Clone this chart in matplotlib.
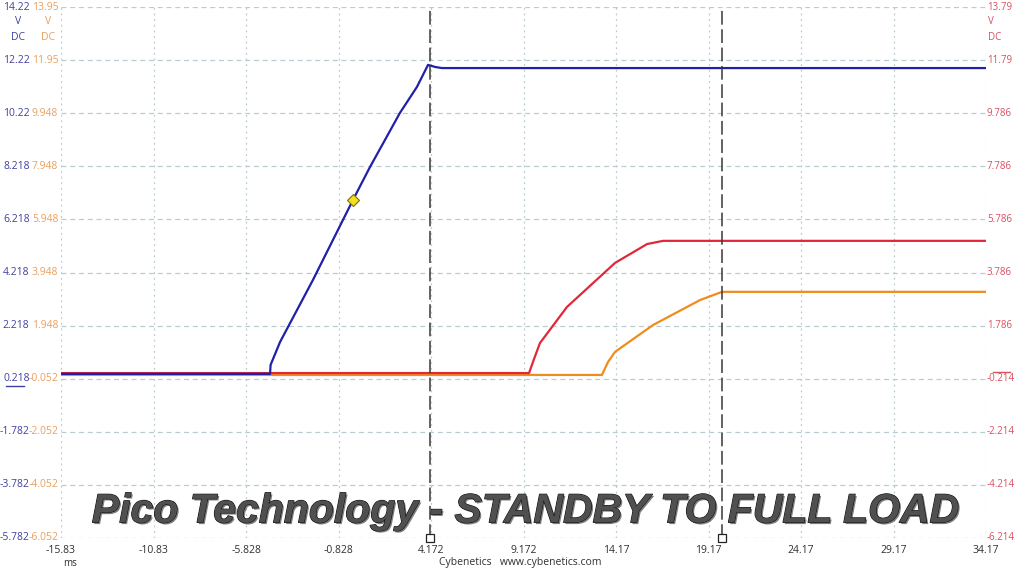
import numpy as np
import matplotlib.pyplot as plt
import matplotlib.patheffects as pe

# time axis (ms) and tick labels
x_ticks = [-15.83, -10.83, -5.828, -0.828, 4.172, 9.172, 14.17, 19.17, 24.17, 29.17, 34.17]
x_labels = ['-15.83', '-10.83', '-5.828', '-0.828', '4.172', '9.172', '14.17', '19.17', '24.17', '29.17', '34.17']

# channel scales (labels as shown by the scope)
blue_labels = ['14.22', '12.22', '10.22', '8.218', '6.218', '4.218', '2.218', '0.218', '-1.782', '-3.782', '-5.782']
orange_labels = ['13.95', '11.95', '9.948', '7.948', '5.948', '3.948', '1.948', '-0.052', '-2.052', '-4.052', '-6.052']
red_labels = ['13.79', '11.79', '9.786', '7.786', '5.786', '3.786', '1.786', '-0.214', '-2.214', '-4.214', '-6.214']

# traces
blue_t = [-15.83, -4.53, -4.50, -3.99, -2.21, -0.05, 0.87, 2.49, 3.41, 4.01, 4.40, 4.76, 34.17]
blue_v = [0.40, 0.40, 0.74, 1.60, 3.94, 6.95, 8.19, 10.23, 11.21, 12.04, 11.96, 11.92, 11.92]
red_t = [-15.83, 9.47, 9.75, 10.06, 11.52, 14.12, 15.85, 16.71, 34.17]
red_v = [0.0, 0.0, 0.55, 1.13, 2.49, 4.15, 4.86, 4.98, 4.98]
orange_t = [-15.83, 13.41, 13.74, 14.12, 16.17, 18.71, 19.90, 34.17]
orange_v = [0.09, 0.09, 0.58, 0.96, 1.97, 2.91, 3.22, 3.22]
marker_t = -0.05
marker_v = 6.95
cursors = [4.12, 19.90]

blueC = '#2020a8'
orangeC = '#f08c1e'
redC = '#e0283a'
blueTxt = '#4040a0'
orangeTxt = '#e8a060'
redTxt = '#d85060'
gridC = '#b8ccd2'

fig = plt.figure(figsize=(10.15, 5.71), dpi=100)
ax = fig.add_axes([61/1015, 1 - 538/571, 925/1015, 531/571])
ax_o = ax.twinx()
ax_r = ax.twinx()
ax_o.set_ylim(float(orange_labels[-1]), float(orange_labels[0]))
ax_r.set_ylim(float(red_labels[-1]), float(red_labels[0]))
ax_o.axis('off')
ax_r.axis('off')
ax.set_xlim(x_ticks[0], x_ticks[-1])
ax.set_ylim(float(blue_labels[-1]), float(blue_labels[0]))
for s in ax.spines.values():
    s.set_visible(False)
ax.set_xticks([])
ax.set_yticks([])

# grid
for v in [float(b) for b in blue_labels]:
    ax.axhline(v, color=gridC, lw=0.9, dashes=(4, 3), zorder=0)
for t in x_ticks:
    ax.axvline(t, color=gridC, lw=0.9, dashes=(1.5, 3), zorder=0)

# traces
ax_o.plot(orange_t, orange_v, color=orangeC, lw=1.6, zorder=3)
ax_r.plot(red_t, red_v, color=redC, lw=1.6, zorder=3)
ax_b = ax.twinx()
ax_b.set_ylim(ax.get_ylim())
ax_b.axis('off')
ax_b.plot(blue_t, blue_v, color=blueC, lw=1.6, zorder=4)
ax_b.plot([marker_t], [marker_v], marker='D', ms=6.5, mfc='#f0e020', mec='#807000', mew=0.8, zorder=5)

# cursors
for c in cursors:
    ax_b.axvline(c, color='#383838', lw=1.1, dashes=(9, 3), zorder=6)
    ax_b.plot([c], [float(blue_labels[-1])], marker='s', ms=5.5, mfc='white', mec='#222222',
              mew=0.9, clip_on=False, zorder=7)

# y tick labels
tf = dict(fontsize=7.5, family='Open Sans')
tr = dict(fontsize=7, family='Open Sans')
for i in range(len(blue_labels)):
    ax.text(-0.034, float(blue_labels[i]), blue_labels[i], transform=ax.get_yaxis_transform(),
            ha='right', va='center', color=blueTxt, **tf)
    ax_o.text(-0.003, float(orange_labels[i]), orange_labels[i], transform=ax_o.get_yaxis_transform(),
              ha='right', va='center', color=orangeTxt, **tf)
    ax_r.text(1.001, float(red_labels[i]), red_labels[i], transform=ax_r.get_yaxis_transform(),
              ha='left', va='center', color=redTxt, **tr)
# units
fig.text(18/1015, 1 - 22/571, 'V', ha='center', va='center', color=blueTxt, **tf)
fig.text(18/1015, 1 - 37/571, 'DC', ha='center', va='center', color=blueTxt, **tf)
fig.text(48/1015, 1 - 22/571, 'V', ha='center', va='center', color=orangeTxt, **tf)
fig.text(48/1015, 1 - 37/571, 'DC', ha='center', va='center', color=orangeTxt, **tf)
fig.text(988/1015, 1 - 22/571, 'V', ha='left', va='center', color=redTxt, **tr)
fig.text(988/1015, 1 - 37/571, 'DC', ha='left', va='center', color=redTxt, **tr)
# zero markers (underline / overline)
fig.add_artist(plt.Line2D([6/1015, 24/1015], [1 - 386/571, 1 - 386/571], color=blueTxt, lw=1))
fig.add_artist(plt.Line2D([993/1015, 1010/1015], [1 - 372/571, 1 - 372/571], color=redTxt, lw=1))

# x tick labels
for t, lab in zip(x_ticks, x_labels):
    ax.text(t, -0.014, lab, transform=ax.get_xaxis_transform(), ha='center', va='top',
            color='#303030', **tf)
fig.text(63/1015, 1 - 563/571, 'ms', ha='left', va='center', color='#303030', fontsize=7, family='Open Sans')
fig.text(520/1015, 1 - 563/571, 'Cybenetics   www.cybenetics.com', ha='center', va='center',
         color='#303030', fontsize=7.5, family='Open Sans')

# title watermark
ax.text(0.502, 0.05, 'Pico Technology - STANDBY TO FULL LOAD', transform=ax.transAxes,
        ha='center', va='center', fontsize=29.5, fontweight='bold', fontstyle='italic',
        family='Liberation Sans', color='#505050', zorder=8,
        path_effects=[pe.withSimplePatchShadow(offset=(1.2, -1.2), shadow_rgbFace='#000000', alpha=0.5),
                      pe.withStroke(linewidth=0.8, foreground='#111111')])

fig.savefig('out.png', dpi=100, facecolor='white')
